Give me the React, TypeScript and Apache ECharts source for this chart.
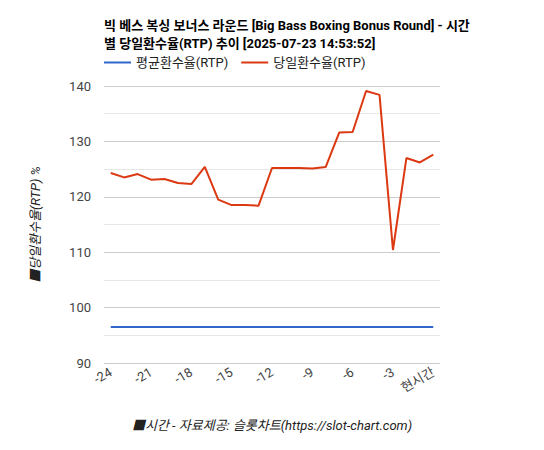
import React, { useEffect, useRef } from "react";
import * as echarts from "echarts";

const categories = [
  "-24", "-23", "-22", "-21", "-20", "-19", "-18", "-17", "-16", "-15", "-14", "-13",
  "-12", "-11", "-10", "-9", "-8", "-7", "-6", "-5", "-4", "-3", "-2", "-1", "현시간",
];
const avgRtp = [
  96.5, 96.5, 96.5, 96.5, 96.5, 96.5, 96.5, 96.5, 96.5, 96.5, 96.5, 96.5,
  96.5, 96.5, 96.5, 96.5, 96.5, 96.5, 96.5, 96.5, 96.5, 96.5, 96.5, 96.5, 96.5,
];
const dayRtp = [
  124.3, 123.5, 124.1, 123.1, 123.2, 122.5, 122.3, 125.4, 119.5, 118.5, 118.5, 118.4,
  125.2, 125.2, 125.2, 125.1, 125.4, 131.6, 131.7, 139.1, 138.4, 110.4, 127.0, 126.2, 127.6,
];
const yTicks = { min: 90, max: 140, interval: 10 };

const FONT = "Roboto, 'Noto Sans CJK KR', sans-serif";

export default function App() {
  const ref = useRef<HTMLDivElement>(null);
  useEffect(() => {
    if (!ref.current) return;
    const chart = echarts.init(ref.current, undefined, { renderer: "svg" });
    chart.setOption({
      animation: false,
      textStyle: { fontFamily: FONT },
      title: {
        text: "빅 베스 복싱 보너스 라운드 [Big Bass Boxing Bonus Round] - 시간\n별 당일환수율(RTP) 추이 [2025-07-23 14:53:52]",
        left: 91,
        top: 3,
        textStyle: { fontSize: 13, fontWeight: "bold", color: "#000", lineHeight: 18, fontFamily: FONT },
      },
      legend: {
        left: 91,
        top: 43,
        icon: "rect",
        itemWidth: 27,
        itemHeight: 2,
        itemGap: 13,
        textStyle: { fontSize: 13, color: "#222", fontFamily: FONT },
        data: ["평균환수율(RTP)", "당일환수율(RTP)"],
      },
      grid: { left: 96, right: 96, top: 78, bottom: 79, containLabel: false },
      xAxis: {
        type: "category",
        data: categories,
        boundaryGap: true,
        axisLine: { show: false },
        axisTick: { show: false },
        axisLabel: { interval: 2, rotate: 30, fontSize: 13, color: "#444", margin: 8, fontFamily: FONT },
        name: "■시간 - 자료제공: 슬롯차트(https://slot-chart.com)",
        nameLocation: "middle",
        nameGap: 56,
        nameTextStyle: { fontSize: 13, fontStyle: "italic", color: "#222", fontFamily: FONT },
      },
      yAxis: {
        type: "value",
        min: yTicks.min,
        max: yTicks.max,
        interval: yTicks.interval,
        axisLine: { show: false },
        axisTick: { show: false },
        axisLabel: { fontSize: 13, color: "#444", margin: 13, fontFamily: FONT },
        splitLine: { lineStyle: { color: "#cccccc", width: 1 } },
        minorTick: { show: false, splitNumber: 2 },
        minorSplitLine: { show: true, lineStyle: { color: "#e6e6e6", width: 1 } },
        name: "■당일환수율(RTP) %",
        nameLocation: "middle",
        nameGap: 62,
        nameTextStyle: { fontSize: 13, fontStyle: "italic", color: "#222", fontFamily: FONT },
      },
      series: [
        {
          name: "평균환수율(RTP)",
          type: "line",
          data: avgRtp,
          showSymbol: false,
          symbol: "none",
          itemStyle: { color: "#3366cc" },
          lineStyle: { color: "#3366cc", width: 2 },
        },
        {
          name: "당일환수율(RTP)",
          type: "line",
          data: dayRtp,
          showSymbol: false,
          symbol: "none",
          itemStyle: { color: "#dc3912" },
          lineStyle: { color: "#dc3912", width: 2 },
        },
      ],
    });
    return () => chart.dispose();
  }, []);
  return <div ref={ref} style={{ width: 528, height: 434 }} />;
}
